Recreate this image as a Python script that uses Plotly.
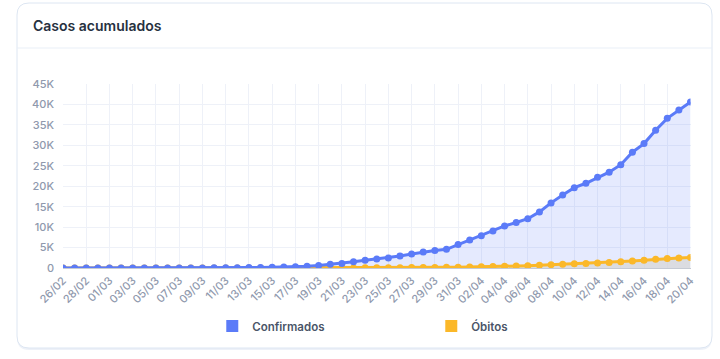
import plotly.graph_objects as go

dates = ["26/02","27/02","28/02","29/02","01/03","02/03","03/03","04/03","05/03","06/03",
         "07/03","08/03","09/03","10/03","11/03","12/03","13/03","14/03","15/03","16/03",
         "17/03","18/03","19/03","20/03","21/03","22/03","23/03","24/03","25/03","26/03",
         "27/03","28/03","29/03","30/03","31/03","01/04","02/04","03/04","04/04","05/04",
         "06/04","07/04","08/04","09/04","10/04","11/04","12/04","13/04","14/04","15/04",
         "16/04","17/04","18/04","19/04","20/04"]

confirmados = [1,1,1,2,2,2,2,3,8,13,
               19,25,25,34,52,77,98,121,200,234,
               291,428,621,904,1128,1546,1891,2201,2433,2915,
               3417,3904,4256,4579,5717,6836,7910,9056,10278,11130,
               12056,13717,15927,17857,19638,20727,22169,23430,25262,28320,
               30425,33682,36599,38654,40581]

obitos = [0,0,0,0,0,0,0,0,0,0,
          0,0,0,0,0,0,0,0,0,0,
          1,4,7,11,18,25,34,46,59,77,
          92,111,136,159,201,240,324,359,445,486,
          553,667,800,941,1056,1124,1223,1328,1532,1736,
          1924,2141,2347,2462,2575]

ytickvals = [0,5000,10000,15000,20000,25000,30000,35000,40000,45000]
yticktext = ["0","5K","10K","15K","20K","25K","30K","35K","40K","45K"]

BLUE = "#5b7bf8"
ORANGE = "#fbb829"
W, H = 720, 359

fig = go.Figure()
# fills
fig.add_trace(go.Scatter(x=dates, y=confirmados, mode="lines", line=dict(width=0, color=BLUE),
                         fill="tozeroy", fillcolor="rgba(91,123,248,0.16)", showlegend=False, hoverinfo="skip"))
fig.add_trace(go.Scatter(x=dates, y=obitos, mode="lines", line=dict(width=0, color=ORANGE),
                         fill="tozeroy", fillcolor="rgba(215,215,215,0.75)", showlegend=False, hoverinfo="skip"))
# lines
fig.add_trace(go.Scatter(x=dates, y=obitos, mode="lines+markers", line=dict(width=3, color=ORANGE),
                         marker=dict(size=7, color=ORANGE), showlegend=False))
fig.add_trace(go.Scatter(x=dates, y=confirmados, mode="lines+markers", line=dict(width=3, color=BLUE),
                         marker=dict(size=7, color=BLUE), showlegend=False))
# legend entries
fig.add_trace(go.Scatter(x=[None], y=[None], mode="markers", name="Confirmados",
                         marker=dict(symbol="square", size=12, color=BLUE)))
fig.add_trace(go.Scatter(x=[None], y=[None], mode="markers", name="Óbitos",
                         marker=dict(symbol="square", size=12, color=ORANGE)))

def px(x):
    return x / W

def py(y):
    return 1 - y / H

def rounded_rect(x0, y0, x1, y1, r):
    rx, ry = r / W, r / H
    X0, X1, Y0, Y1 = px(x0), px(x1), py(y1), py(y0)
    return (f"M {X0+rx},{Y1} L {X1-rx},{Y1} Q {X1},{Y1} {X1},{Y1-ry} L {X1},{Y0+ry} "
            f"Q {X1},{Y0} {X1-rx},{Y0} L {X0+rx},{Y0} Q {X0},{Y0} {X0},{Y0+ry} L {X0},{Y1-ry} "
            f"Q {X0},{Y1} {X0+rx},{Y1} Z")

shapes = [
    dict(type="path", path=rounded_rect(17, 5, 712, 350, 12), xref="paper", yref="paper",
         fillcolor="rgba(222,230,242,0.55)", line=dict(width=0), layer="below"),
    dict(type="path", path=rounded_rect(17, 3, 712, 348, 12), xref="paper", yref="paper",
         fillcolor="white", line=dict(color="#dde6f2", width=1), layer="below"),
    dict(type="line", xref="paper", yref="paper", x0=px(17), x1=px(712), y0=py(48), y1=py(48),
         line=dict(color="#e9eff7", width=1), layer="below"),
]

fig.update_layout(
    width=W, height=H,
    margin=dict(l=0, r=0, t=0, b=0, autoexpand=False),
    paper_bgcolor="white", plot_bgcolor="rgba(0,0,0,0)",
    font=dict(family="Inter", color="#8c96aa", size=11),
    shapes=shapes,
    annotations=[dict(text="Casos acumulados", xref="paper", yref="paper", x=px(31), y=py(25),
                      xanchor="left", yanchor="middle", showarrow=False,
                      font=dict(family="Inter", size=14, color="#27313f", weight=600))],
    xaxis=dict(domain=[px(63), px(690.5)], type="category", range=[0, len(dates) - 1],
               tickmode="linear", tick0=0, dtick=2, tickangle=-45, automargin=False,
               ticklabelstandoff=3,
               showgrid=True, gridcolor="#eef1f8", gridwidth=1, zeroline=False,
               showline=False, ticks="", tickfont=dict(size=11, color="#8f99ad", weight=500)),
    yaxis=dict(domain=[py(268), py(84)], range=[0, 45000], tickvals=ytickvals, ticktext=yticktext,
               automargin=False,
               showgrid=True, gridcolor="#eef1f8", zeroline=True, zerolinecolor="#c5cad3", zerolinewidth=1,
               ticks="", ticklabelstandoff=8, tickfont=dict(size=11, color="#8f99ad", weight=500)),
    legend=dict(orientation="h", x=0.599, xanchor="center", y=py(326), yanchor="middle",
                entrywidth=174, font=dict(size=11.5, color="#4a5568", weight=600),
                bgcolor="rgba(0,0,0,0)"),
    showlegend=True,
)

fig.write_html("out.html")
